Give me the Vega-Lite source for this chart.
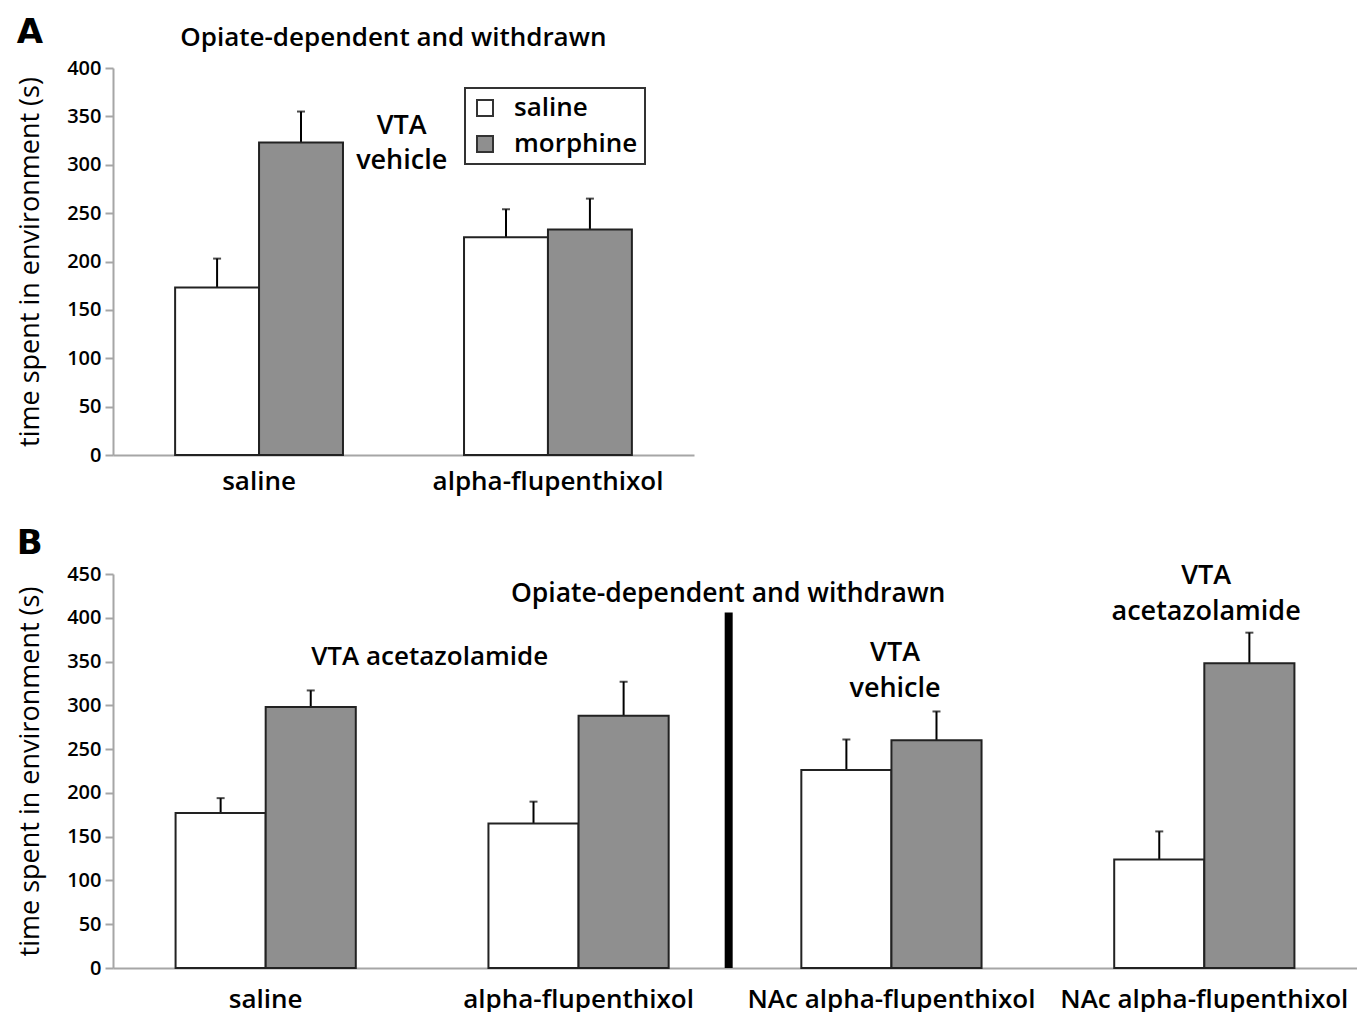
{
  "$schema": "https://vega.github.io/schema/vega-lite/v6.json",
  "background": "white",
  "padding": {"left": 16, "top": 16, "right": 0, "bottom": 0},
  "config": {
    "view": {"stroke": null},
    "font": "Open Sans",
    "axis": {"domainColor": "#a6a6a6", "domainWidth": 2, "tickColor": "#a6a6a6", "tickWidth": 2, "labelColor": "black", "titleColor": "black", "grid": false},
    "axisX": {"ticks": false, "labelAngle": 0, "labelFontSize": 26, "labelFontWeight": 600, "labelPadding": 13, "labelLimit": 0, "title": null},
    "axisY": {"tickSize": 8, "labelFontSize": 20, "labelFontWeight": 600, "labelPadding": 4, "titleFontSize": 27, "titleFontWeight": "normal", "titlePadding": 22},
    "title": {"anchor": "start", "frame": "bounds", "fontSize": 34, "fontWeight": "bold", "font": "DejaVu Sans", "color": "black"},
    "legend": {"labelFont": "Open Sans", "strokeWidth": 2}
  },
  "datasets": {
    "panelA": [
      {"group": "saline", "treatment": "saline", "value": 173, "upper": 203},
      {"group": "saline", "treatment": "morphine", "value": 323, "upper": 355},
      {"group": "alpha-flupenthixol", "treatment": "saline", "value": 225, "upper": 254},
      {"group": "alpha-flupenthixol", "treatment": "morphine", "value": 233, "upper": 265}
    ],
    "panelB": [
      {"group": "saline", "treatment": "saline", "value": 177, "upper": 194},
      {"group": "saline", "treatment": "morphine", "value": 298, "upper": 317},
      {"group": "alpha-flupenthixol", "treatment": "saline", "value": 165, "upper": 190},
      {"group": "alpha-flupenthixol", "treatment": "morphine", "value": 288, "upper": 327},
      {"group": "NAc alpha-flupenthixol (VTA vehicle)", "treatment": "saline", "value": 226, "upper": 261},
      {"group": "NAc alpha-flupenthixol (VTA vehicle)", "treatment": "morphine", "value": 260, "upper": 293},
      {"group": "NAc alpha-flupenthixol (VTA acetazolamide)", "treatment": "saline", "value": 124, "upper": 156},
      {"group": "NAc alpha-flupenthixol (VTA acetazolamide)", "treatment": "morphine", "value": 348, "upper": 383}
    ]
  },
  "vconcat": [
    {
      "title": {"text": "A", "offset": -25},
      "width": 581,
      "height": 387,
      "layer": [
        {
          "data": {"name": "panelA"},
          "mark": {"type": "rule", "color": "black", "strokeWidth": 2},
          "encoding": {
            "x": {"field": "group", "type": "nominal", "scale": {"domain": ["saline", "alpha-flupenthixol"], "paddingInner": 0.419, "paddingOuter": 0.215}},
            "xOffset": {"field": "treatment", "type": "nominal", "scale": {"domain": ["saline", "morphine"], "paddingInner": 0, "paddingOuter": 0}},
            "y": {"field": "value", "type": "quantitative", "scale": {"domain": [0, 400]},
              "axis": {"title": "time spent in environment (s)", "values": [0, 50, 100, 150, 200, 250, 300, 350, 400]}},
            "y2": {"field": "upper"}
          }
        },
        {
          "data": {"name": "panelA"},
          "mark": {"type": "tick", "color": "black", "thickness": 2, "size": 8},
          "encoding": {
            "x": {"field": "group", "type": "nominal"},
            "xOffset": {"field": "treatment", "type": "nominal"},
            "y": {"field": "upper", "type": "quantitative"}
          }
        },
        {
          "data": {"name": "panelA"},
          "mark": {"type": "bar", "stroke": "#222222", "strokeWidth": 2},
          "encoding": {
            "x": {"field": "group", "type": "nominal"},
            "xOffset": {"field": "treatment", "type": "nominal"},
            "y": {"field": "value", "type": "quantitative"},
            "fill": {"field": "treatment", "type": "nominal", "scale": {"domain": ["saline", "morphine"], "range": ["#ffffff", "#8f8f8f"]},
              "legend": {"title": null, "orient": "none", "legendX": 352, "legendY": 20, "strokeColor": "#333333", "padding": 7, "symbolType": "square", "symbolSize": 256, "symbolStrokeColor": "#333333", "symbolStrokeWidth": 2, "labelFontSize": 26, "labelFontWeight": 600, "labelOffset": 16, "rowPadding": 10, "fillColor": "white"}}
          }
        },
        {
          "data": {"values": [{}]},
          "mark": {"type": "text", "text": "Opiate-dependent and withdrawn", "fontSize": 26, "fontWeight": 600, "baseline": "middle", "align": "center"},
          "encoding": {"x": {"datum": "saline", "bandPosition": 1.3}, "y": {"datum": 431}}
        },
        {
          "data": {"values": [{}]},
          "mark": {"type": "text", "text": ["VTA", "vehicle"], "fontSize": 27, "fontWeight": 600, "baseline": "middle", "align": "center", "lineHeight": 35},
          "encoding": {"x": {"datum": "saline", "bandPosition": 1.35}, "y": {"datum": 340}}
        }
      ]
    },
    {
      "title": {"text": "B", "offset": 1},
      "width": 1244,
      "height": 394,
      "layer": [
        {
          "data": {"name": "panelB"},
          "mark": {"type": "rule", "color": "black", "strokeWidth": 2},
          "encoding": {
            "x": {"field": "group", "type": "nominal", "scale": {"domain": ["saline", "alpha-flupenthixol", "NAc alpha-flupenthixol (VTA vehicle)", "NAc alpha-flupenthixol (VTA acetazolamide)"], "paddingInner": 0.424, "paddingOuter": 0.2},
              "axis": {"labelExpr": "split(datum.value, ' (')[0]", "labelPadding": 18}},
            "xOffset": {"field": "treatment", "type": "nominal", "scale": {"domain": ["saline", "morphine"], "paddingInner": 0, "paddingOuter": 0}},
            "y": {"field": "value", "type": "quantitative", "scale": {"domain": [0, 450]},
              "axis": {"title": "time spent in environment (s)", "values": [0, 50, 100, 150, 200, 250, 300, 350, 400, 450]}},
            "y2": {"field": "upper"}
          }
        },
        {
          "data": {"name": "panelB"},
          "mark": {"type": "tick", "color": "black", "thickness": 2, "size": 8},
          "encoding": {
            "x": {"field": "group", "type": "nominal"},
            "xOffset": {"field": "treatment", "type": "nominal"},
            "y": {"field": "upper", "type": "quantitative"}
          }
        },
        {
          "data": {"name": "panelB"},
          "mark": {"type": "bar", "stroke": "#222222", "strokeWidth": 2},
          "encoding": {
            "x": {"field": "group", "type": "nominal"},
            "xOffset": {"field": "treatment", "type": "nominal"},
            "y": {"field": "value", "type": "quantitative"},
            "fill": {"field": "treatment", "type": "nominal", "scale": {"domain": ["saline", "morphine"], "range": ["#ffffff", "#8f8f8f"]}, "legend": null}
          }
        },
        {
          "data": {"values": [{}]},
          "mark": {"type": "rule", "color": "black", "strokeWidth": 8},
          "encoding": {"x": {"datum": "alpha-flupenthixol", "bandPosition": 1.333}, "y": {"datum": 0}, "y2": {"datum": 406}}
        },
        {
          "data": {"values": [{}]},
          "mark": {"type": "text", "text": "Opiate-dependent and withdrawn", "fontSize": 26.5, "fontWeight": 600, "baseline": "middle", "align": "center"},
          "encoding": {"x": {"datum": "alpha-flupenthixol", "bandPosition": 1.33}, "y": {"datum": 427}}
        },
        {
          "data": {"values": [{}]},
          "mark": {"type": "text", "text": "VTA acetazolamide", "fontSize": 26, "fontWeight": 600, "baseline": "middle", "align": "center"},
          "encoding": {"x": {"datum": "saline", "bandPosition": 1.41}, "y": {"datum": 355}}
        },
        {
          "data": {"values": [{}]},
          "mark": {"type": "text", "text": ["VTA", "vehicle"], "fontSize": 27, "fontWeight": 600, "baseline": "middle", "align": "center", "lineHeight": 36},
          "encoding": {"x": {"datum": "NAc alpha-flupenthixol (VTA vehicle)", "bandPosition": 0.52}, "y": {"datum": 360}}
        },
        {
          "data": {"values": [{}]},
          "mark": {"type": "text", "text": ["VTA", "acetazolamide"], "fontSize": 27, "fontWeight": 600, "baseline": "middle", "align": "center", "lineHeight": 36},
          "encoding": {"x": {"datum": "NAc alpha-flupenthixol (VTA acetazolamide)", "bandPosition": 0.51}, "y": {"datum": 448}}
        }
      ]
    }
  ],
  "spacing": 32,
  "resolve": {"scale": {"x": "independent", "y": "independent", "fill": "independent", "xOffset": "independent"}, "legend": {"fill": "independent"}}
}
